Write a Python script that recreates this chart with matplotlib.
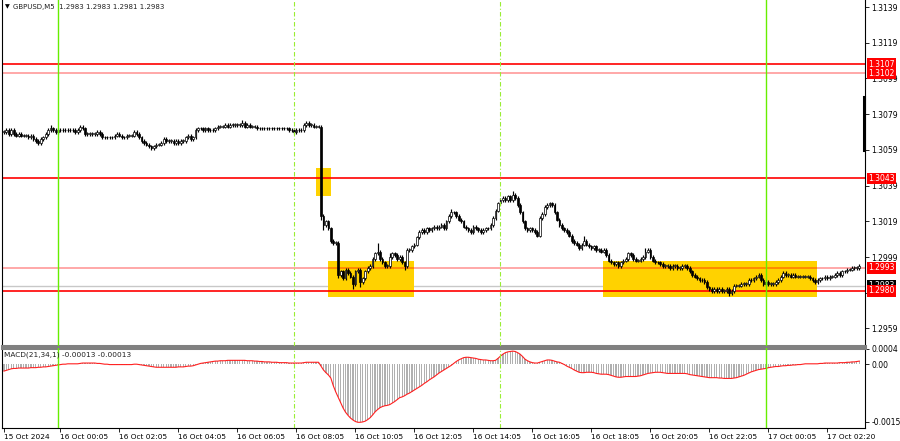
import matplotlib
matplotlib.use("Agg")
import matplotlib.pyplot as plt
from matplotlib.patches import Rectangle
from matplotlib.transforms import blended_transform_factory

plt.rcParams['font.family'] = ['DejaVu Sans']

# GBPUSD M5, closes in pips above BASE (one value per 5-min bar)
BASE = 1.29
closes = [
    169, 170, 168, 170, 168, 167, 168, 167, 167, 167,
    166, 167, 165, 164, 163, 165, 166, 168, 170, 171,
    170, 169, 170, 170, 170, 170, 170, 170, 170, 169,
    170, 172, 171, 168, 168, 168, 168, 168, 169, 168,
    166, 166, 166, 166, 166, 167, 168, 167, 166, 166,
    167, 167, 167, 169, 168, 166, 164, 163, 162, 161,
    160, 161, 162, 162, 163, 165, 164, 164, 164, 163,
    164, 163, 164, 164, 166, 167, 165, 166, 170, 171,
    171, 170, 171, 170, 170, 170, 171, 172, 172, 172,
    173, 172, 173, 173, 173, 173, 173, 174, 172, 173,
    172, 172, 172, 171, 171, 171, 171, 171, 171, 171,
    171, 171, 171, 171, 171, 171, 170, 170, 169, 170,
    170, 170, 173, 174, 173, 173, 172, 172, 172, 122,
    117, 119, 115, 108, 107, 107, 89, 91, 87, 92,
    90, 88, 84, 91, 92, 85, 87, 91, 93, 94,
    98, 101, 102, 98, 96, 94, 94, 99, 101, 100,
    98, 99, 96, 94, 103, 103, 105, 106, 110, 113,
    114, 113, 115, 114, 115, 116, 115, 116, 117, 115,
    119, 122, 124, 124, 122, 120, 119, 116, 115, 114,
    113, 116, 115, 114, 113, 114, 115, 115, 117, 121,
    125, 129, 131, 132, 131, 133, 131, 134, 132, 128,
    124, 119, 115, 114, 115, 114, 113, 111, 121, 123,
    127, 128, 129, 128, 124, 120, 117, 115, 114, 113,
    111, 108, 107, 106, 104, 106, 108, 106, 105, 104,
    105, 103, 103, 102, 103, 100, 97, 96, 95, 96,
    94, 96, 97, 98, 101, 100, 98, 97, 97, 98,
    99, 102, 103, 99, 97, 96, 96, 95, 94, 94,
    94, 93, 94, 94, 93, 93, 94, 94, 93, 91,
    89, 88, 87, 86, 86, 85, 82, 81, 80, 81,
    80, 81, 80, 80, 81, 79, 80, 83, 83, 83,
    84, 84, 84, 86, 86, 87, 88, 89, 86, 84,
    85, 84, 84, 84, 85, 86, 88, 90, 89, 89,
    88, 89, 88, 88, 88, 88, 88, 88, 87, 86,
    85, 86, 87, 87, 88, 87, 88, 88, 89, 90,
    89, 91, 91, 92, 92, 93, 93, 93, 94,
]
up_wick = [
    1, 1, 1, 1, 1, 1, 1, 1, 1, 1,
    1, 1, 1, 1, 1, 1, 1, 1, 1, 2,
    1, 1, 1, 1, 1, 1, 1, 1, 1, 1,
    1, 1, 1, 1, 1, 1, 1, 1, 1, 1,
    1, 1, 1, 1, 1, 1, 1, 1, 1, 1,
    1, 1, 1, 1, 1, 1, 1, 1, 1, 1,
    1, 1, 1, 1, 1, 1, 1, 1, 1, 1,
    1, 1, 1, 1, 1, 1, 1, 1, 1, 1,
    1, 1, 1, 1, 1, 1, 1, 1, 1, 1,
    1, 1, 1, 1, 1, 1, 1, 2, 1, 1,
    1, 1, 1, 1, 1, 1, 1, 1, 1, 1,
    1, 1, 1, 1, 1, 1, 1, 1, 1, 1,
    1, 1, 1, 1, 1, 1, 1, 1, 1, 1,
    1, 1, 1, 1, 1, 1, 1, 1, 1, 1,
    1, 1, 1, 1, 1, 1, 1, 1, 1, 1,
    1, 1, 5, 1, 1, 1, 1, 2, 1, 1,
    1, 1, 1, 1, 1, 1, 1, 1, 1, 1,
    1, 1, 1, 1, 1, 1, 1, 1, 1, 1,
    1, 1, 2, 1, 1, 1, 1, 1, 1, 1,
    1, 1, 1, 1, 1, 1, 1, 1, 1, 1,
    1, 1, 1, 1, 1, 1, 1, 2, 1, 1,
    1, 1, 1, 1, 1, 1, 1, 1, 1, 1,
    1, 1, 1, 1, 1, 1, 1, 1, 1, 1,
    1, 1, 1, 1, 1, 1, 3, 1, 1, 1,
    1, 1, 1, 1, 1, 1, 1, 1, 1, 1,
    1, 1, 1, 1, 1, 1, 1, 1, 1, 1,
    1, 2, 1, 1, 1, 1, 1, 1, 1, 1,
    1, 1, 1, 1, 1, 1, 1, 1, 1, 1,
    1, 1, 1, 1, 1, 1, 1, 1, 1, 1,
    1, 1, 1, 1, 1, 1, 1, 1, 1, 1,
    1, 1, 1, 1, 1, 1, 1, 1, 1, 1,
    1, 1, 1, 1, 1, 1, 1, 1, 1, 1,
    1, 1, 1, 1, 1, 1, 1, 1, 1, 1,
    1, 1, 1, 1, 1, 1, 1, 1, 1, 1,
    1, 1, 1, 1, 1, 1, 1, 1, 1,
]
dn_wick = [
    1, 1, 1, 1, 1, 1, 1, 1, 1, 1,
    1, 1, 1, 1, 1, 1, 1, 1, 1, 1,
    1, 1, 1, 1, 1, 1, 1, 1, 1, 1,
    1, 1, 1, 1, 1, 1, 1, 1, 1, 1,
    1, 1, 1, 1, 1, 1, 1, 1, 1, 1,
    1, 1, 1, 1, 1, 1, 1, 1, 1, 1,
    1, 1, 1, 1, 1, 1, 1, 1, 1, 1,
    1, 1, 1, 1, 1, 1, 1, 1, 1, 1,
    1, 1, 1, 1, 1, 1, 1, 1, 1, 1,
    1, 1, 1, 1, 1, 1, 1, 1, 1, 1,
    1, 1, 1, 1, 1, 1, 1, 1, 1, 1,
    1, 1, 1, 1, 1, 1, 1, 1, 1, 1,
    1, 1, 1, 1, 1, 1, 1, 1, 1, 2,
    3, 1, 1, 1, 1, 1, 2, 1, 1, 1,
    1, 1, 3, 1, 1, 3, 1, 1, 1, 1,
    1, 1, 1, 1, 1, 1, 1, 1, 1, 1,
    1, 1, 1, 2, 1, 1, 1, 1, 1, 1,
    1, 1, 1, 1, 1, 1, 1, 1, 1, 1,
    1, 1, 1, 1, 1, 1, 1, 1, 1, 1,
    1, 1, 1, 1, 1, 1, 1, 1, 1, 1,
    1, 1, 1, 1, 1, 1, 1, 1, 1, 1,
    1, 1, 1, 1, 1, 1, 1, 1, 1, 1,
    1, 1, 1, 1, 1, 1, 1, 1, 1, 1,
    1, 1, 1, 1, 1, 1, 1, 1, 1, 1,
    1, 1, 1, 1, 1, 1, 1, 1, 1, 1,
    1, 1, 1, 1, 1, 1, 1, 1, 1, 1,
    1, 1, 1, 1, 1, 1, 1, 1, 1, 1,
    1, 1, 1, 1, 1, 1, 1, 1, 1, 1,
    1, 1, 1, 1, 1, 1, 1, 1, 1, 1,
    1, 1, 1, 1, 1, 2, 1, 1, 1, 1,
    1, 1, 1, 1, 1, 1, 1, 1, 1, 1,
    1, 1, 1, 1, 1, 1, 1, 1, 1, 1,
    1, 1, 1, 1, 1, 1, 1, 1, 1, 1,
    1, 1, 1, 1, 1, 1, 1, 1, 1, 1,
    1, 1, 1, 1, 1, 1, 1, 1, 1,
]
# MACD(21,34,1) main value per bar, in units of 1e-5
macd = [
    -18, -16, -14, -12, -11, -11, -10, -10, -10, -10,
    -10, -9, -9, -9, -8, -8, -7, -7, -6, -5,
    -4, -3, -2, -1, 0, 0, 1, 1, 1, 1,
    1, 2, 3, 3, 3, 3, 3, 3, 2, 2,
    1, 0, 0, -1, -1, -1, -1, -1, -1, -1,
    -1, -1, -1, 0, 0, -1, -2, -3, -4, -5,
    -6, -7, -8, -8, -8, -8, -8, -8, -8, -8,
    -8, -7, -7, -7, -6, -5, -5, -4, -2, 0,
    2, 3, 4, 5, 6, 7, 8, 8, 9, 9,
    9, 10, 10, 10, 10, 10, 10, 10, 10, 9,
    9, 9, 8, 8, 7, 7, 6, 6, 6, 5,
    5, 5, 4, 4, 4, 4, 3, 3, 3, 3,
    3, 3, 4, 5, 5, 5, 5, 5, 5, -5,
    -15, -22, -28, -36, -56, -72, -86, -100, -114, -125,
    -133, -140, -145, -149, -151, -151, -150, -148, -144, -139,
    -132, -124, -118, -113, -110, -108, -107, -105, -101, -97,
    -92, -87, -85, -82, -78, -75, -71, -67, -63, -59,
    -55, -50, -46, -41, -37, -33, -28, -23, -19, -15,
    -11, -7, -3, 2, 7, 11, 14, 17, 18, 18,
    17, 16, 15, 13, 12, 11, 11, 10, 9, 9,
    10, 15, 21, 26, 30, 32, 33, 34, 33, 30,
    26, 20, 13, 9, 6, 4, 3, 3, 5, 7,
    9, 11, 11, 10, 8, 6, 5, 2, -1, -5,
    -8, -11, -15, -18, -21, -22, -22, -21, -21, -21,
    -22, -24, -25, -26, -26, -26, -27, -29, -31, -33,
    -34, -34, -33, -32, -32, -32, -32, -32, -31, -30,
    -28, -26, -24, -23, -22, -21, -21, -21, -22, -23,
    -24, -24, -24, -24, -24, -24, -24, -24, -25, -27,
    -28, -29, -30, -31, -32, -33, -34, -35, -35, -35,
    -35, -36, -36, -37, -37, -37, -37, -36, -35, -33,
    -31, -29, -26, -23, -20, -18, -16, -14, -13, -12,
    -11, -9, -8, -7, -6, -6, -5, -4, -4, -3,
    -3, -2, -2, -1, -1, 0, 1, 1, 1, 1,
    1, 1, 2, 2, 3, 3, 3, 3, 3, 3,
    4, 4, 4, 5, 5, 6, 6, 7, 8,
]

tick_bars = [0, 23, 47, 71, 95, 119, 143, 167, 191, 215, 239, 263, 287, 311, 335]
tick_labels = ["15 Oct 2024", "16 Oct 00:05", "16 Oct 02:05", "16 Oct 04:05",
               "16 Oct 06:05", "16 Oct 08:05", "16 Oct 10:05", "16 Oct 12:05",
               "16 Oct 14:05", "16 Oct 16:05", "16 Oct 18:05", "16 Oct 20:05",
               "16 Oct 22:05", "17 Oct 00:05", "17 Oct 02:20"]
price_ticks = [1.2959, 1.2979, 1.2999, 1.3019, 1.3039, 1.3059, 1.3079, 1.3099, 1.3119, 1.3139]

day_breaks = [22, 310]        # 16 Oct 00:00, 17 Oct 00:00
session_marks = [118, 202]
strong_levels = [1.3107, 1.3043, 1.2980]
weak_levels = [1.3102, 1.2993]
last_price = 1.2983
# zones: first bar, last bar, low, high
zones = [(127.0, 133.1, 1.30332, 1.30489),
         (131.9, 166.8, 1.29766, 1.29968),
         (243.7, 330.8, 1.29766, 1.29968)]

n = len(closes)
idx = list(range(n))
opens = [closes[0]] + closes[:-1]
o = [BASE + v / 10000 for v in opens]
c = [BASE + v / 10000 for v in closes]
h = [BASE + (max(a, b) + u) / 10000 for a, b, u in zip(opens, closes, up_wick)]
l = [BASE + (min(a, b) - d) / 10000 for a, b, d in zip(opens, closes, dn_wick)]
m = [v / 100000 for v in macd]

fig = plt.figure(figsize=(9, 4.41), dpi=100)
ax = fig.add_axes([0.0022, 0.2154, 0.9589, 0.7846])
axm = fig.add_axes([0.0022, 0.0295, 0.9589, 0.1814])

xlim = (-0.78, 350.3)

# main price panel
for z in zones:
    ax.add_patch(Rectangle((z[0], z[2]), z[1] - z[0], z[3] - z[2],
                           facecolor="#FFD200", edgecolor="none", zorder=1))
ax.axhline(last_price, color="#c8c8c8", lw=1.0, zorder=0.5)
for lv in strong_levels:
    ax.axhline(lv, color="#ff0000", lw=1.2, zorder=2)
for lv in weak_levels:
    ax.axhline(lv, color=(1, 0, 0, 0.4), lw=1.2, zorder=2)

ax.vlines(idx, l, h, color="black", lw=0.85, zorder=3)
bottoms = [min(a, b) for a, b in zip(o, c)]
heights = [max(abs(b - a), 0.00003) for a, b in zip(o, c)]
fills = ["black" if b < a else "white" for a, b in zip(o, c)]
ax.bar(idx, heights, bottom=bottoms, width=0.7, color=fills,
       edgecolor="black", linewidth=0.5, zorder=4)

for a in (ax, axm):
    for d in day_breaks:
        a.axvline(d, color="#66ee00", lw=1.0, zorder=5)
    for s in session_marks:
        a.axvline(s, color="#99ee33", lw=0.8, dashes=(4, 2, 1, 2), zorder=5)
    a.set_xlim(*xlim)
    for sp in a.spines.values():
        sp.set_color("black")
        sp.set_linewidth(0.8)

ax.set_ylim(1.294919, 1.314292)
ax.set_xticks([])
ax.yaxis.tick_right()
ax.set_yticks(price_ticks)
# 1.2979 sits fully under the level labels, so only its tick mark shows
ax.set_yticklabels(["" if v == 1.2979 else f"{v:.4f}" for v in price_ticks])
ax.tick_params(axis="y", labelsize=5.5, length=3, width=0.6, pad=1.5)
ax.spines["bottom"].set_color("#808080")
ax.spines["bottom"].set_linewidth(2.2)
ax.spines["top"].set_visible(False)

tr = blended_transform_factory(ax.transAxes, ax.transData)
ax.plot([0.9985, 0.9985], [1.30886, 1.3059], transform=tr, color="black",
        lw=2.2, clip_on=False, zorder=6)
for lv in strong_levels + weak_levels:
    ax.text(1.004, lv, f"{lv:.4f}", transform=tr, color="white", fontsize=5.5,
            va="center", ha="left", clip_on=False, zorder=10,
            bbox=dict(boxstyle="square,pad=0.18", fc="#ff0000", ec="none"))
ax.text(1.004, last_price, f"{last_price:.4f}", transform=tr, color="white",
        fontsize=5.5, va="center", ha="left", clip_on=False, zorder=9,
        bbox=dict(boxstyle="square,pad=0.18", fc="black", ec="none"))

# MACD panel
axm.bar(idx, m, width=0.5, color="#b0b0b0", zorder=2)
axm.plot(idx, m, color="#ff2020", lw=0.8, zorder=3)
axm.set_ylim(-0.001658, 0.000421)
axm.yaxis.tick_right()
axm.set_yticks([-0.0015, 0.0, 0.0004])
axm.set_yticklabels(["-0.0015", "0.00", "0.0004"])
axm.tick_params(axis="y", labelsize=5.5, length=3, width=0.6, pad=1.5)
axm.set_xticks(tick_bars)
axm.set_xticklabels(tick_labels, ha="left")
axm.tick_params(axis="x", labelsize=5.3, length=3, width=0.6, pad=1.5)
axm.spines["top"].set_color("#808080")
axm.spines["top"].set_linewidth(2.2)

fig.text(5 / 900, 1 - 7 / 441, "\u25bc", fontsize=4.5, va="center", ha="left")
fig.text(13 / 900, 1 - 7 / 441, "GBPUSD,M5  1.2983 1.2983 1.2981 1.2983",
         fontsize=5.0, va="center", ha="left", color="#202020")
fig.text(4 / 900, 1 - 355 / 441, "MACD(21,34,1) -0.00013 -0.00013",
         fontsize=5.3, va="center", ha="left", color="#202020")

fig.savefig("out.png", dpi=100)
